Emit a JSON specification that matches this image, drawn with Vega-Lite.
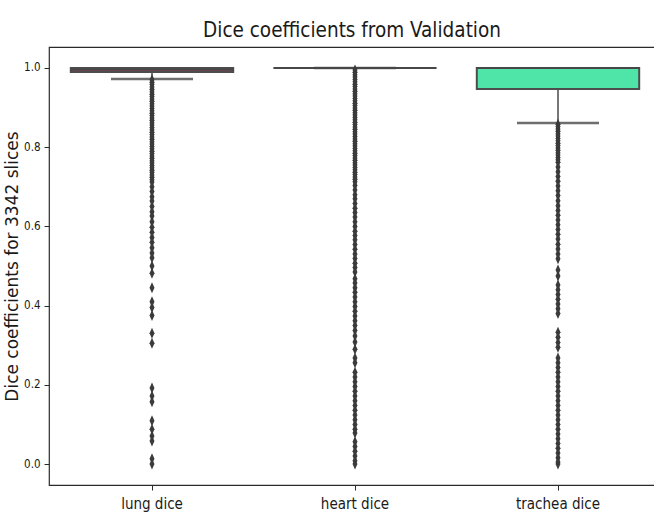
{
  "$schema": "https://vega.github.io/schema/vega-lite/v6.json",
  "width": 606,
  "height": 438,
  "autosize": {"type": "none"},
  "padding": {"left": 49, "top": 47, "right": 0, "bottom": 28},
  "background": "white",
  "title": {
    "text": "Dice coefficients from Validation",
    "font": "DejaVu Sans Condensed, DejaVu Sans",
    "fontSize": 20.5,
    "fontWeight": "normal",
    "color": "#1a1a1a",
    "anchor": "middle",
    "offset": 6
  },
  "config": {
    "view": {"stroke": "#2b2b2b", "strokeWidth": 1.2},
    "axis": {
      "grid": false,
      "domain": false,
      "tickColor": "#2b2b2b",
      "tickSize": 5,
      "labelColor": "#1a1a1a",
      "titleColor": "#1a1a1a",
      "labelFont": "DejaVu Sans Condensed, DejaVu Sans"
    },
    "axisY": {
      "labelFontSize": 11.5,
      "labelPadding": 4,
      "titleFont": "DejaVu Sans",
      "titleFontSize": 17,
      "titleFontWeight": "normal",
      "titlePadding": 2
    },
    "axisX": {
      "labelFontSize": 15,
      "labelPadding": 6,
      "labelAngle": 0
    }
  },
  "datasets": {
    "stats": [
      {"part": "lung dice", "lo": 0.972, "q1": 0.990, "median": 0.996, "q3": 1.0, "hi": 1.0},
      {"part": "heart dice", "lo": 1.0, "q1": 1.0, "median": 1.0, "q3": 1.0, "hi": 1.0},
      {"part": "trachea dice", "lo": 0.861, "q1": 0.947, "median": 1.0, "q3": 1.0, "hi": 1.0}
    ],
    "fliers": [
      {"part": "lung dice", "dice": [0.970,0.964,0.958,0.952,0.946,0.940,0.934,0.928,0.922,0.916,0.910,0.904,0.898,0.892,0.886,0.880,0.874,0.868,0.862,0.856,0.850,0.844,0.838,0.832,0.826,0.820,0.814,0.808,0.802,0.796,0.790,0.784,0.778,0.772,0.766,0.760,0.754,0.748,0.742,0.736,0.730,0.724,0.718,0.712,0.700,0.688,0.675,0.664,0.650,0.637,0.626,0.612,0.598,0.585,0.572,0.560,0.546,0.533,0.521,0.500,0.482,0.445,0.410,0.395,0.375,0.330,0.305,0.192,0.172,0.157,0.109,0.088,0.071,0.058,0.013,0.0]},
      {"part": "heart dice", "dice": [0.995,0.989,0.983,0.977,0.971,0.965,0.959,0.953,0.947,0.941,0.935,0.929,0.923,0.917,0.911,0.905,0.899,0.893,0.887,0.881,0.875,0.869,0.863,0.857,0.851,0.845,0.839,0.833,0.827,0.821,0.815,0.809,0.803,0.797,0.791,0.785,0.779,0.773,0.767,0.761,0.755,0.749,0.743,0.737,0.731,0.725,0.719,0.713,0.703,0.692,0.680,0.670,0.658,0.646,0.635,0.624,0.612,0.600,0.588,0.577,0.566,0.554,0.542,0.530,0.519,0.507,0.496,0.485,0.468,0.457,0.445,0.434,0.422,0.410,0.398,0.386,0.374,0.362,0.350,0.337,0.323,0.308,0.290,0.268,0.256,0.232,0.220,0.208,0.196,0.184,0.172,0.160,0.148,0.136,0.124,0.112,0.100,0.088,0.078,0.056,0.044,0.032,0.020,0.008,0.0]},
      {"part": "trachea dice", "dice": [0.858,0.852,0.846,0.840,0.834,0.828,0.822,0.816,0.810,0.804,0.798,0.792,0.786,0.780,0.774,0.768,0.762,0.750,0.738,0.726,0.714,0.702,0.690,0.678,0.665,0.652,0.640,0.628,0.616,0.604,0.592,0.580,0.568,0.555,0.543,0.530,0.518,0.490,0.475,0.452,0.440,0.428,0.416,0.404,0.392,0.380,0.333,0.320,0.307,0.295,0.268,0.256,0.244,0.232,0.220,0.208,0.196,0.184,0.172,0.160,0.148,0.136,0.124,0.112,0.100,0.088,0.076,0.064,0.052,0.040,0.028,0.016,0.005,0.0]}
    ]
  },
  "encoding": {
    "x": {
      "field": "part",
      "type": "nominal",
      "title": null,
      "sort": ["lung dice", "heart dice", "trachea dice"],
      "scale": {"domain": ["lung dice", "heart dice", "trachea dice"], "range": [1.5, 610.5], "paddingInner": 0, "paddingOuter": 0}
    }
  },
  "layer": [
    {
      "data": {"name": "stats"},
      "mark": {"type": "rule", "color": "#4a4a4a", "strokeWidth": 1.5},
      "encoding": {
        "y": {"field": "lo", "type": "quantitative", "title": "Dice coefficients for 3342 slices",
              "scale": {"domain": [-0.053, 1.053], "nice": false, "zero": false},
              "axis": {"values": [0, 0.2, 0.4, 0.6, 0.8, 1.0], "format": ".1f"}},
        "y2": {"field": "q1"}
      }
    },
    {
      "data": {"name": "stats"},
      "mark": {"type": "tick", "color": "#6e6e6e", "size": 82, "thickness": 2.5, "opacity": 1},
      "encoding": {
        "y": {"field": "lo", "type": "quantitative", "title": "Dice coefficients for 3342 slices"}
      }
    },
    {
      "data": {"name": "stats"},
      "mark": {"type": "bar", "width": {"band": 0.8}, "stroke": "#4d4d4d", "strokeWidth": 2, "opacity": 1},
      "encoding": {
        "y": {"field": "q1", "type": "quantitative", "title": "Dice coefficients for 3342 slices"},
        "y2": {"field": "q3"},
        "color": {"field": "part", "type": "nominal", "legend": null,
                  "scale": {"domain": ["lung dice", "heart dice", "trachea dice"], "range": ["#8c4356", "#6b8fd6", "#4fe5a9"]}}
      }
    },
    {
      "data": {"name": "stats"},
      "mark": {"type": "tick", "color": "#474747", "size": 163, "thickness": 2, "opacity": 1},
      "encoding": {
        "y": {"field": "median", "type": "quantitative", "title": "Dice coefficients for 3342 slices"}
      }
    },
    {
      "data": {"name": "fliers"},
      "transform": [{"flatten": ["dice"]}],
      "mark": {"type": "point", "filled": true, "color": "#3b3b3b", "opacity": 1,
               "shape": "M0,-1L0.45,0L0,1L-0.45,0Z", "size": 121},
      "encoding": {
        "y": {"field": "dice", "type": "quantitative", "title": "Dice coefficients for 3342 slices"}
      }
    }
  ]
}
